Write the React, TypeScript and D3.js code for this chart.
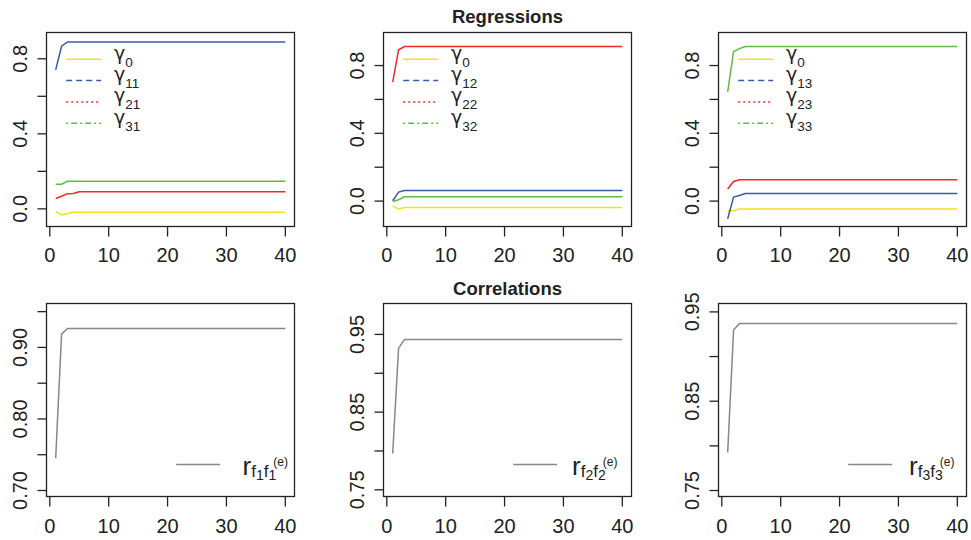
import React, { useEffect, useRef } from 'react';
import * as d3 from 'd3';

// iteration index on the x axis
const iterations = d3.range(1, 41);
const xTicks = [0, 10, 20, 30, 40];

// regression coefficients, factor 1
const gamma0_f1 = [
  -0.014, -0.032, -0.025, -0.018, -0.018, -0.018, -0.018, -0.018, -0.018, -0.018,
  -0.018, -0.018, -0.018, -0.018, -0.018, -0.018, -0.018, -0.018, -0.018, -0.018,
  -0.018, -0.018, -0.018, -0.018, -0.018, -0.018, -0.018, -0.018, -0.018, -0.018,
  -0.018, -0.018, -0.018, -0.018, -0.018, -0.018, -0.018, -0.018, -0.018, -0.018,
];
const gamma11 = [
  0.741, 0.867, 0.89, 0.89, 0.89, 0.89, 0.89, 0.89, 0.89, 0.89,
  0.89, 0.89, 0.89, 0.89, 0.89, 0.89, 0.89, 0.89, 0.89, 0.89,
  0.89, 0.89, 0.89, 0.89, 0.89, 0.89, 0.89, 0.89, 0.89, 0.89,
  0.89, 0.89, 0.89, 0.89, 0.89, 0.89, 0.89, 0.89, 0.89, 0.89,
];
const gamma21 = [
  0.055, 0.067, 0.081, 0.082, 0.091, 0.091, 0.091, 0.091, 0.091, 0.091,
  0.091, 0.091, 0.091, 0.091, 0.091, 0.091, 0.091, 0.091, 0.091, 0.091,
  0.091, 0.091, 0.091, 0.091, 0.091, 0.091, 0.091, 0.091, 0.091, 0.091,
  0.091, 0.091, 0.091, 0.091, 0.091, 0.091, 0.091, 0.091, 0.091, 0.091,
];
const gamma31 = [
  0.131, 0.131, 0.147, 0.147, 0.147, 0.147, 0.147, 0.147, 0.147, 0.147,
  0.147, 0.147, 0.147, 0.147, 0.147, 0.147, 0.147, 0.147, 0.147, 0.147,
  0.147, 0.147, 0.147, 0.147, 0.147, 0.147, 0.147, 0.147, 0.147, 0.147,
  0.147, 0.147, 0.147, 0.147, 0.147, 0.147, 0.147, 0.147, 0.147, 0.147,
];

// factor 2
const gamma0_f2 = [
  -0.028, -0.047, -0.038, -0.038, -0.038, -0.038, -0.038, -0.038, -0.038, -0.038,
  -0.038, -0.038, -0.038, -0.038, -0.038, -0.038, -0.038, -0.038, -0.038, -0.038,
  -0.038, -0.038, -0.038, -0.038, -0.038, -0.038, -0.038, -0.038, -0.038, -0.038,
  -0.038, -0.038, -0.038, -0.038, -0.038, -0.038, -0.038, -0.038, -0.038, -0.038,
];
const gamma12 = [
  0.002, 0.053, 0.062, 0.062, 0.062, 0.062, 0.062, 0.062, 0.062, 0.062,
  0.062, 0.062, 0.062, 0.062, 0.062, 0.062, 0.062, 0.062, 0.062, 0.062,
  0.062, 0.062, 0.062, 0.062, 0.062, 0.062, 0.062, 0.062, 0.062, 0.062,
  0.062, 0.062, 0.062, 0.062, 0.062, 0.062, 0.062, 0.062, 0.062, 0.062,
];
const gamma22 = [
  0.702, 0.893, 0.912, 0.912, 0.912, 0.912, 0.912, 0.912, 0.912, 0.912,
  0.912, 0.912, 0.912, 0.912, 0.912, 0.912, 0.912, 0.912, 0.912, 0.912,
  0.912, 0.912, 0.912, 0.912, 0.912, 0.912, 0.912, 0.912, 0.912, 0.912,
  0.912, 0.912, 0.912, 0.912, 0.912, 0.912, 0.912, 0.912, 0.912, 0.912,
];
const gamma32 = [
  -0.002, 0.008, 0.025, 0.025, 0.025, 0.025, 0.025, 0.025, 0.025, 0.025,
  0.025, 0.025, 0.025, 0.025, 0.025, 0.025, 0.025, 0.025, 0.025, 0.025,
  0.025, 0.025, 0.025, 0.025, 0.025, 0.025, 0.025, 0.025, 0.025, 0.025,
  0.025, 0.025, 0.025, 0.025, 0.025, 0.025, 0.025, 0.025, 0.025, 0.025,
];

// factor 3
const gamma0_f3 = [
  -0.057, -0.057, -0.047, -0.047, -0.047, -0.047, -0.047, -0.047, -0.047, -0.047,
  -0.047, -0.047, -0.047, -0.047, -0.047, -0.047, -0.047, -0.047, -0.047, -0.047,
  -0.047, -0.047, -0.047, -0.047, -0.047, -0.047, -0.047, -0.047, -0.047, -0.047,
  -0.047, -0.047, -0.047, -0.047, -0.047, -0.047, -0.047, -0.047, -0.047, -0.047,
];
const gamma13 = [
  -0.104, 0.024, 0.033, 0.045, 0.045, 0.045, 0.045, 0.045, 0.045, 0.045,
  0.045, 0.045, 0.045, 0.045, 0.045, 0.045, 0.045, 0.045, 0.045, 0.045,
  0.045, 0.045, 0.045, 0.045, 0.045, 0.045, 0.045, 0.045, 0.045, 0.045,
  0.045, 0.045, 0.045, 0.045, 0.045, 0.045, 0.045, 0.045, 0.045, 0.045,
];
const gamma23 = [
  0.071, 0.116, 0.126, 0.126, 0.126, 0.126, 0.126, 0.126, 0.126, 0.126,
  0.126, 0.126, 0.126, 0.126, 0.126, 0.126, 0.126, 0.126, 0.126, 0.126,
  0.126, 0.126, 0.126, 0.126, 0.126, 0.126, 0.126, 0.126, 0.126, 0.126,
  0.126, 0.126, 0.126, 0.126, 0.126, 0.126, 0.126, 0.126, 0.126, 0.126,
];
const gamma33 = [
  0.645, 0.883, 0.9, 0.912, 0.912, 0.912, 0.912, 0.912, 0.912, 0.912,
  0.912, 0.912, 0.912, 0.912, 0.912, 0.912, 0.912, 0.912, 0.912, 0.912,
  0.912, 0.912, 0.912, 0.912, 0.912, 0.912, 0.912, 0.912, 0.912, 0.912,
  0.912, 0.912, 0.912, 0.912, 0.912, 0.912, 0.912, 0.912, 0.912, 0.912,
];

// correlations between true and estimated factors
const corr1 = [
  0.745, 0.9186, 0.9265, 0.9265, 0.9265, 0.9265, 0.9265, 0.9265, 0.9265, 0.9265,
  0.9265, 0.9265, 0.9265, 0.9265, 0.9265, 0.9265, 0.9265, 0.9265, 0.9265, 0.9265,
  0.9265, 0.9265, 0.9265, 0.9265, 0.9265, 0.9265, 0.9265, 0.9265, 0.9265, 0.9265,
  0.9265, 0.9265, 0.9265, 0.9265, 0.9265, 0.9265, 0.9265, 0.9265, 0.9265, 0.9265,
];
const corr2 = [
  0.7967, 0.932, 0.9436, 0.9436, 0.9436, 0.9436, 0.9436, 0.9436, 0.9436, 0.9436,
  0.9436, 0.9436, 0.9436, 0.9436, 0.9436, 0.9436, 0.9436, 0.9436, 0.9436, 0.9436,
  0.9436, 0.9436, 0.9436, 0.9436, 0.9436, 0.9436, 0.9436, 0.9436, 0.9436, 0.9436,
  0.9436, 0.9436, 0.9436, 0.9436, 0.9436, 0.9436, 0.9436, 0.9436, 0.9436, 0.9436,
];
const corr3 = [
  0.7925, 0.9296, 0.937, 0.937, 0.937, 0.937, 0.937, 0.937, 0.937, 0.937,
  0.937, 0.937, 0.937, 0.937, 0.937, 0.937, 0.937, 0.937, 0.937, 0.937,
  0.937, 0.937, 0.937, 0.937, 0.937, 0.937, 0.937, 0.937, 0.937, 0.937,
  0.937, 0.937, 0.937, 0.937, 0.937, 0.937, 0.937, 0.937, 0.937, 0.937,
];

const regTicks = [0, 0.2, 0.4, 0.6, 0.8];
const regLabels = [0, 0.4, 0.8];
const corTicks = [
  [0.7, 0.75, 0.8, 0.85, 0.9, 0.95],
  [0.75, 0.8, 0.85, 0.9, 0.95],
  [0.75, 0.8, 0.85, 0.9, 0.95],
];
const corLabels = [
  [0.7, 0.8, 0.9],
  [0.75, 0.85, 0.95],
  [0.75, 0.85, 0.95],
];
const regSubscripts = [
  ['0', '11', '21', '31'],
  ['0', '12', '22', '32'],
  ['0', '13', '23', '33'],
];

const colors = ['#f2e41c', '#3b5ba9', '#ee2a24', '#62b946'];
const dashes = [null, '6,4', '2,3', '2,3,6,3'];
const FONT = '"Liberation Sans", Arial, Helvetica, sans-serif';
const INK = '#222';

const App = () => {
  const svgRef = useRef(null);

  useEffect(() => {
    document.body.style.margin = '0';
    const svg = d3.select(svgRef.current);
    svg.selectAll('*').remove();

    svg.attr('width', 971).attr('height', 540).style('background', '#fff').style('display', 'block');

    const cols = [
      { left: 46.5, right: 294.5 },
      { left: 383.5, right: 631.5 },
      { left: 718.5, right: 966.5 },
    ];
    const rows = [
      { top: 32.5, bottom: 226.5 },
      { top: 303.5, bottom: 496.5 },
    ];
    const regDomains = [[-0.094, 0.94], [-0.15, 0.995], [-0.15, 0.995]];
    const corDomains = [[0.6916, 0.9614], [0.7414, 0.9898], [0.7433, 0.9594]];
    const regSeries = [
      [gamma0_f1, gamma11, gamma21, gamma31],
      [gamma0_f2, gamma12, gamma22, gamma32],
      [gamma0_f3, gamma13, gamma23, gamma33],
    ];
    const corSeries = [corr1, corr2, corr3];
    const rLegendOffset = [196, 188.5, 190.5];

    const drawFrame = (g, x, y, yTicks, yLabels, fmt, row) => {
      const bottom = y.range()[0];
      const left = x.range()[0];

      g.append('rect')
        .attr('x', left)
        .attr('y', y.range()[1])
        .attr('width', x.range()[1] - left)
        .attr('height', bottom - y.range()[1])
        .attr('fill', 'none')
        .attr('stroke', INK)
        .attr('stroke-width', 1.3);

      // x axis
      g.selectAll('.xt')
        .data(xTicks)
        .enter()
        .append('line')
        .attr('x1', d => x(d)).attr('x2', d => x(d))
        .attr('y1', bottom).attr('y2', bottom + 10)
        .attr('stroke', INK).attr('stroke-width', 1.3);
      g.selectAll('.xl')
        .data(xTicks)
        .enter()
        .append('text')
        .attr('x', d => x(d))
        .attr('y', bottom + (row === 0 ? 35 : 36.5))
        .attr('text-anchor', 'middle')
        .attr('font-family', FONT)
        .attr('font-size', 20)
        .attr('fill', INK)
        .text(d => d);

      // y axis
      g.selectAll('.yt')
        .data(yTicks)
        .enter()
        .append('line')
        .attr('x1', left - 9).attr('x2', left)
        .attr('y1', d => y(d)).attr('y2', d => y(d))
        .attr('stroke', INK).attr('stroke-width', 1.3);
      g.selectAll('.yl')
        .data(yLabels)
        .enter()
        .append('text')
        .attr('transform', d => `translate(${left - 19.5},${y(d)}) rotate(-90)`)
        .attr('text-anchor', 'middle')
        .attr('font-family', FONT)
        .attr('font-size', 20)
        .attr('fill', INK)
        .text(d => fmt(d));
    };

    cols.forEach((c, i) => {
      // regressions
      const x = d3.scaleLinear().domain([-0.56, 41.56]).range([c.left, c.right]);
      const y = d3.scaleLinear().domain(regDomains[i]).range([rows[0].bottom, rows[0].top]);
      const g = svg.append('g');
      drawFrame(g, x, y, regTicks, regLabels, d3.format('.1f'), 0);

      const line = d3.line().x((d, k) => x(iterations[k])).y(d => y(d));
      regSeries[i].forEach((s, k) => {
        g.append('path')
          .datum(s)
          .attr('d', line)
          .attr('fill', 'none')
          .attr('stroke', colors[k])
          .attr('stroke-width', 1.5);
      });

      // legend
      regSubscripts[i].forEach((sub, k) => {
        const ly = rows[0].top + 26.8 + k * 21.3;
        g.append('line')
          .attr('x1', c.left + 19.7).attr('x2', c.left + 54.7)
          .attr('y1', ly).attr('y2', ly)
          .attr('stroke', colors[k])
          .attr('stroke-width', 1.5)
          .attr('stroke-dasharray', dashes[k]);
        const t = g.append('text')
          .attr('x', c.left + 67.5)
          .attr('y', ly + 0.5)
          .attr('font-family', '"DejaVu Sans", ' + FONT)
          .attr('fill', INK);
        t.append('tspan').attr('font-size', 19).text('γ');
        t.append('tspan').attr('font-family', FONT).attr('font-size', 13.5).attr('dy', 7).text(sub);
      });

      // correlations
      const y2 = d3.scaleLinear().domain(corDomains[i]).range([rows[1].bottom, rows[1].top]);
      const g2 = svg.append('g');
      drawFrame(g2, x, y2, corTicks[i], corLabels[i], d3.format('.2f'), 1);
      const line2 = d3.line().x((d, k) => x(iterations[k])).y(d => y2(d));
      g2.append('path')
        .datum(corSeries[i])
        .attr('d', line2)
        .attr('fill', 'none')
        .attr('stroke', '#888')
        .attr('stroke-width', 1.5);

      const ry = rows[1].top + 161;
      g2.append('line')
        .attr('x1', c.left + 129.7).attr('x2', c.left + 173.7)
        .attr('y1', ry).attr('y2', ry)
        .attr('stroke', '#888')
        .attr('stroke-width', 1.5);
      const rt = g2.append('text')
        .attr('x', c.left + rLegendOffset[i])
        .attr('y', ry + 10.7)
        .attr('font-family', FONT)
        .attr('fill', INK);
      const n = String(i + 1);
      rt.append('tspan').attr('font-size', 26).text('r');
      rt.append('tspan').attr('font-size', 17).attr('dy', 2).text('f');
      rt.append('tspan').attr('font-size', 14).attr('dy', 3).text(n);
      rt.append('tspan').attr('font-size', 17).attr('dy', -3).text('f');
      rt.append('tspan').attr('font-size', 14).attr('dy', 3).text(n);
      rt.append('tspan').attr('font-size', 12).attr('dx', -3).attr('dy', -14).text('(e)');
    });

    // titles
    const midX = (cols[1].left + cols[1].right) / 2;
    svg.append('text')
      .attr('x', midX).attr('y', 22.7)
      .attr('text-anchor', 'middle')
      .attr('font-family', FONT)
      .attr('font-weight', 'bold')
      .attr('font-size', 18.5)
      .attr('fill', INK)
      .text('Regressions');
    svg.append('text')
      .attr('x', midX).attr('y', 295)
      .attr('text-anchor', 'middle')
      .attr('font-family', FONT)
      .attr('font-weight', 'bold')
      .attr('font-size', 18.5)
      .attr('fill', INK)
      .text('Correlations');
  }, []);

  return (
    <div>
      <svg ref={svgRef}></svg>
    </div>
  );
};

export default App;
